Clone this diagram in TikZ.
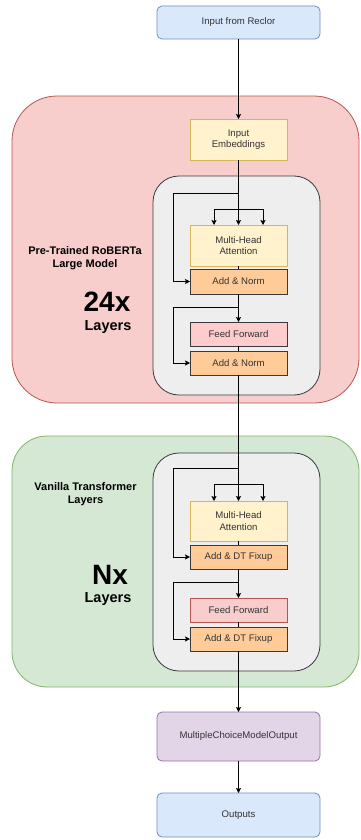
\documentclass[tikz,border=0pt]{standalone}
\usepackage{fontspec}
\setmainfont{Liberation Sans}
\usetikzlibrary{arrows.meta}

\definecolor{blueF}{HTML}{DAE8FC}\definecolor{blueS}{HTML}{6C8EBF}
\definecolor{redF}{HTML}{F8CECC}\definecolor{redS}{HTML}{B85450}
\definecolor{yelF}{HTML}{FFF2CC}\definecolor{yelS}{HTML}{D6B656}
\definecolor{grayF}{HTML}{EEEEEE}\definecolor{grayS}{HTML}{36393D}
\definecolor{oraF}{HTML}{FFCC99}
\definecolor{pinkF}{HTML}{FFCCCC}
\definecolor{greF}{HTML}{D5E8D4}\definecolor{greS}{HTML}{82B366}
\definecolor{purF}{HTML}{E1D5E7}\definecolor{purS}{HTML}{9673A6}
\definecolor{txt}{HTML}{333333}

\tikzset{
  box/.style={draw, line width=0.8pt, inner sep=0pt, outer sep=0pt,
    text=txt, font=\fontsize{9.6}{11.5}\selectfont, align=center},
  wide/.style={box, minimum width=163pt, rounded corners=5pt},
  blk/.style={box, minimum width=97pt},
  inbox/.style={wide, fill=blueF, draw=blueS},
  purbox/.style={wide, fill=purF, draw=purS},
  yelbox/.style={blk, fill=yelF, draw=yelS},
  orabox/.style={blk, fill=oraF, draw=grayS},
  ffbox/.style={blk, fill=pinkF, draw=grayS},
  ffboxg/.style={blk, fill=redF, draw=redS},
  wire/.style={line width=0.8pt, draw=black},
  arr/.style={wire, -{Stealth[length=5pt,width=5pt,inset=1pt]}},
  lbl/.style={align=center, text=black, inner sep=0pt},
}

\begin{document}
\begin{tikzpicture}[x=1pt,y=-1pt]
\useasboundingbox (0,0) rectangle (360,840);

% containers
\draw[fill=redF, draw=redS, line width=0.8pt, rounded corners=45pt] (12,96) rectangle (359,403);
\draw[fill=grayF, draw=grayS, line width=0.8pt, rounded corners=26pt] (153,176) rectangle (320,395);
\draw[fill=greF, draw=greS, line width=0.8pt, rounded corners=35pt] (12,436) rectangle (359,687);
\draw[fill=grayF, draw=grayS, line width=0.8pt, rounded corners=26pt] (153,453) rectangle (320,671);

% container labels
\node[lbl, font=\fontsize{11}{13}\selectfont\bfseries] (ptl) at (85,258) {Pre-Trained RoBERTa\\Large Model};
\node[lbl, font=\fontsize{28}{30}\selectfont\bfseries] (n24) at (107,302) {24x};
\node[lbl, font=\fontsize{14.5}{17}\selectfont\bfseries] (ly1) at (108,327) {Layers};
\node[lbl, font=\fontsize{11}{13}\selectfont\bfseries] (vtl) at (85.5,494) {Vanilla Transformer\\Layers};
\node[lbl, font=\fontsize{28}{30}\selectfont\bfseries] (nnx) at (110,575) {Nx};
\node[lbl, font=\fontsize{14.5}{17}\selectfont\bfseries] (ly2) at (108,599) {Layers};

% branch points of the residual and attention wires
\coordinate (r1) at (238.5,193);
\coordinate (s1) at (238.5,209);
\coordinate (r2) at (238.5,307);
\coordinate (r3) at (238.5,468);
\coordinate (s2) at (238.5,484);
\coordinate (r4) at (238.5,582);

% blocks
\node[inbox, minimum height=33pt] (inp) at (238.5,22.5) {Input from Reclor};
\node[yelbox, minimum height=41pt] (emb) at (238.5,139.5) {Input\\Embeddings};
\node[yelbox, minimum height=41pt] (mha1) at (238.5,245.5) {Multi-Head\\Attention};
\node[orabox, minimum height=25pt] (an1) at (238.5,281.5) {Add \& Norm};
\node[ffbox, minimum height=24pt] (ff1) at (238.5,334) {Feed Forward};
\node[orabox, minimum height=24pt] (an2) at (238.5,363) {Add \& Norm};
\node[yelbox, minimum height=40pt] (mha2) at (238.5,521) {Multi-Head\\Attention};
\node[orabox, minimum height=24pt] (an3) at (238.5,557) {Add \& DT Fixup};
\node[ffboxg, minimum height=24pt] (ff2) at (238.5,610) {Feed Forward};
\node[orabox, minimum height=24pt] (an4) at (238.5,639) {Add \& DT Fixup};
\node[purbox, minimum height=49pt] (mco) at (238.5,736.5) {MultipleChoiceModelOutput};
\node[inbox, minimum height=44pt] (out) at (238.5,815) {Outputs};

% wires
\draw[arr] (inp) -- (emb);
\draw[arr] (emb) -- (mha1);
\draw[arr] (r1) -| ([xshift=-17pt]an1.west) |- (an1.west);
\draw[arr] (s1) -| ([xshift=-24.5pt]mha1.north);
\draw[arr] (s1) -| ([xshift=24.5pt]mha1.north);
\draw[wire] (mha1) -- (an1);
\draw[arr] (an1) -- (ff1);
\draw[arr] (r2) -| ([xshift=-17pt]an2.west) |- (an2.west);
\draw[wire] (ff1) -- (an2);
\draw[arr] (an2) -- (mha2);
\draw[arr] (r3) -| ([xshift=-17pt]an3.west) |- (an3.west);
\draw[arr] (s2) -| ([xshift=-24.5pt]mha2.north);
\draw[arr] (s2) -| ([xshift=24.5pt]mha2.north);
\draw[wire] (mha2) -- (an3);
\draw[arr] (an3) -- (ff2);
\draw[arr] (r4) -| ([xshift=-17pt]an4.west) |- (an4.west);
\draw[wire] (ff2) -- (an4);
\draw[arr] (an4) -- (mco);
\draw[arr] (mco) -- (out);
\end{tikzpicture}
\end{document}
